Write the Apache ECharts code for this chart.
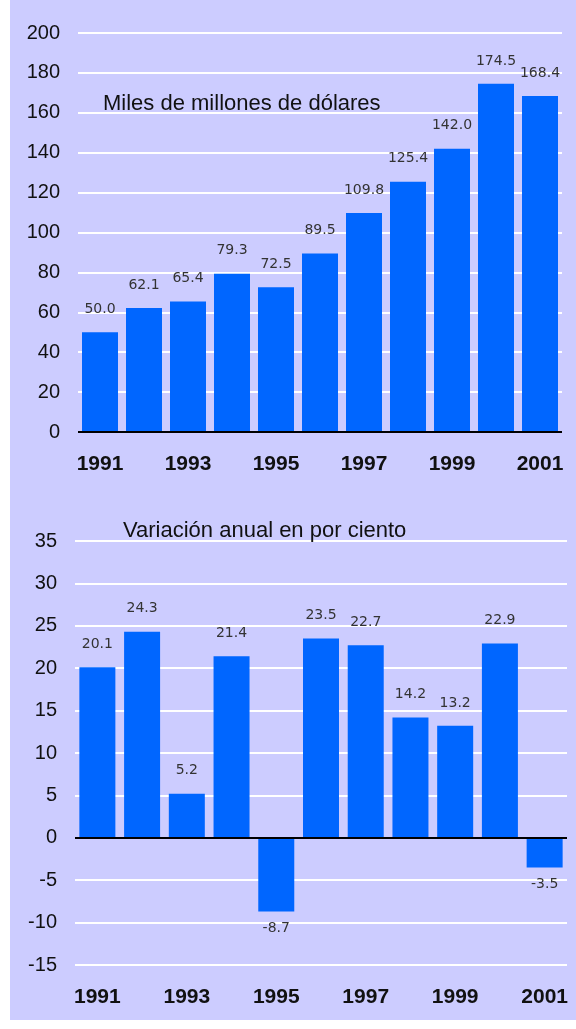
<!DOCTYPE html>
<html>
<head>
<meta charset="utf-8">
<script src="https://cdn.jsdelivr.net/npm/echarts@6/dist/echarts.min.js"></script>
<style>
  html, body { margin: 0; padding: 0; background: #fff; }
  #panel {
    position: absolute; left: 10px; top: 0;
    width: 566px; height: 1020px;
    background: #ccccff;
  }
</style>
</head>
<body>
<div id="panel"></div>
<script>
// años de la serie
const years = ['1991', '1992', '1993', '1994', '1995', '1996', '1997', '1998', '1999', '2000', '2001']
// miles de millones de dólares
const montos = [50.0, 62.1, 65.4, 79.3, 72.5, 89.5, 109.8, 125.4, 142.0, 174.5, 168.4]
// variación anual en por ciento
const variacion = [20.1, 24.3, 5.2, 21.4, -8.7, 23.5, 22.7, 14.2, 13.2, 22.9, -3.5]

const BLUE = '#0066ff'

const valueLabel = {
  show: true,
  position: 'top',
  distance: 16,
  fontFamily: 'DejaVu Sans',
  fontSize: 14,
  color: '#333',
  formatter: p => p.value.toFixed(1),
}

const titleStyle = { fontFamily: 'Liberation Sans', fontWeight: 'normal', fontSize: 22, color: '#111' }

function yAxis(gridIndex, min, max, interval) {
  return {
    type: 'value', gridIndex, min, max, interval,
    axisLine: { show: false },
    axisTick: { show: false },
    axisLabel: { fontFamily: 'Liberation Sans', fontSize: 20, color: '#111', margin: 18 },
    splitLine: { lineStyle: { color: '#fff', width: 2 } },
  }
}

function xAxis(gridIndex) {
  return {
    type: 'category', gridIndex, data: years,
    axisLine: { show: false, onZero: false },
    axisTick: { show: false },
    axisLabel: {
      interval: 1,   // sólo años impares
      fontFamily: 'Liberation Sans', fontWeight: 'bold', fontSize: 21, color: '#111', margin: 22,
    },
  }
}

// línea del cero en negro
const zeroLine = {
  silent: true,
  symbol: 'none',
  label: { show: false },
  lineStyle: { color: '#000', width: 2, type: 'solid' },
  data: [{ yAxis: 0 }],
}

const chart = echarts.init(document.getElementById('panel'))
chart.setOption({
  animation: false,
  title: [
    { text: 'Miles de millones de dólares', left: 93, top: 93, padding: 0, textStyle: titleStyle },
    { text: 'Variación anual en por ciento', left: 113, top: 520, padding: 0, textStyle: titleStyle },
  ],
  grid: [
    { left: 68, width: 484, top: 33, height: 399 },
    { left: 65, width: 492, top: 541, height: 424 },
  ],
  xAxis: [xAxis(0), xAxis(1)],
  yAxis: [yAxis(0, 0, 200, 20), yAxis(1, -15, 35, 5)],
  series: [
    {
      type: 'bar', xAxisIndex: 0, yAxisIndex: 0,
      data: montos,
      barWidth: 36,
      itemStyle: { color: BLUE },
      label: valueLabel,
      markLine: zeroLine,
    },
    {
      type: 'bar', xAxisIndex: 1, yAxisIndex: 1,
      // las barras negativas llevan la etiqueta debajo
      data: variacion.map(v => v < 0 ? { value: v, label: { position: 'bottom', distance: 10 } } : v),
      barWidth: 36,
      itemStyle: { color: BLUE },
      label: valueLabel,
      markLine: zeroLine,
    },
  ],
})
</script>
</body>
</html>
